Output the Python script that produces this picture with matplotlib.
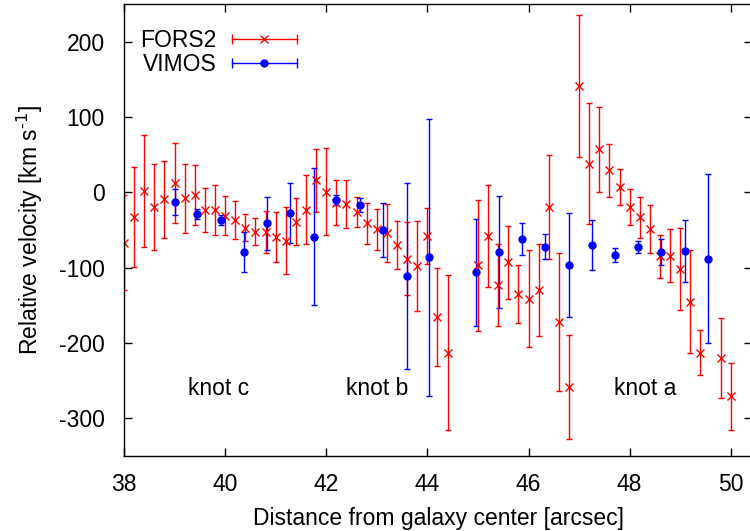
import numpy as np
import matplotlib
matplotlib.use('Agg')
import matplotlib.pyplot as plt
from matplotlib.lines import Line2D
from matplotlib.legend_handler import HandlerBase

plt.rcParams['font.family'] = ['Liberation Sans', 'DejaVu Sans']
plt.rcParams['axes.unicode_minus'] = False

# FORS2 long-slit velocities
fors_x = [38.0, 38.2, 38.4, 38.6, 38.8, 39.0, 39.2, 39.4, 39.6, 39.8,
          40.0, 40.2, 40.4, 40.6, 40.8, 41.0, 41.2, 41.4, 41.6, 41.8,
          42.0, 42.2, 42.4, 42.6, 42.8, 43.0, 43.2, 43.4, 43.6, 43.8,
          44.0, 44.2, 44.4, 45.0, 45.2, 45.4, 45.6, 45.8, 46.0, 46.2,
          46.4, 46.6, 46.8, 47.0, 47.2, 47.4, 47.6, 47.8, 48.0, 48.2,
          48.4, 48.6, 48.8, 49.0, 49.2, 49.4, 49.8, 50.0]
fors_v = [-67, -33, 2, -19, -9, 12, -8, -4, -23, -23,
          -31, -37, -47, -52, -53, -59, -64, -39, -23, 16,
          1, -14, -16, -26, -41, -49, -54, -70, -88, -98,
          -58, -165, -213, -97, -58, -123, -93, -135, -141, -130,
          -19, -172, -259, 141, 38, 57, 29, 7, -19, -33,
          -49, -85, -84, -102, -145, -213, -220, -271]
fors_err = [63, 66, 74, 57, 51, 53, 46, 40, 29, 33,
            26, 25, 18, 18, 28, 33, 45, 31, 46, 42,
            58, 30, 32, 20, 27, 27, 38, 32, 48, 60,
            37, 65, 103, 87, 68, 55, 48, 39, 64, 61,
            69, 92, 69, 94, 80, 56, 35, 24, 24, 27,
            32, 29, 35, 54, 68, 30, 53, 45]

# VIMOS IFU velocities
vimos_x = [39.0, 39.45, 39.92, 40.38, 40.83, 41.29, 41.75, 42.2, 42.67, 43.12,
           43.59, 44.04, 44.96, 45.42, 45.87, 46.33, 46.8, 47.25, 47.72, 48.17,
           48.63, 49.09, 49.55]
vimos_v = [-13, -29, -37, -79, -41, -27, -59, -10, -17, -50,
           -111, -86, -106, -79, -62, -72, -97, -70, -83, -73,
           -79, -78, -88]
vimos_err = [17, 7, 7, 27, 35, 40, 91, 7, 9, 36,
             123, 184, 71, 74, 21, 17, 69, 33, 9, 8,
             17, 41, 112]

knot_names = ['knot c', 'knot b', 'knot a']
knot_x = [39.88, 43.0, 48.3]
knot_y = [-260, -260, -260]


class HorizErrHandler(HandlerBase):
    # gnuplot-like key sample: horizontal bar with end caps and the point in the middle
    def create_artists(self, legend, orig, xd, yd, w, h, fs, trans):
        c = orig.get_color()
        y = yd + h / 2
        bar = Line2D([xd, xd + w], [y, y], color=c, lw=1.0, transform=trans)
        caps = Line2D([xd, xd + w], [y, y], ls='none', marker='|', ms=7,
                      mew=1.0, color=c, transform=trans)
        pt = Line2D([xd + w / 2], [y], ls='none', marker=orig.get_marker(),
                    ms=orig.get_markersize(), mew=orig.get_markeredgewidth(),
                    color=c, transform=trans)
        return [bar, caps, pt]


fig = plt.figure(figsize=(7.5, 5.31), dpi=100)
ax = fig.add_axes([124 / 750, 75 / 531, 628 / 750, 452 / 531])

ax.errorbar(fors_x, fors_v, yerr=fors_err, fmt='x', color='#ff0000', ms=6, mew=1.0,
            elinewidth=1.0, capsize=2.5, capthick=1.0)
ax.errorbar(vimos_x, vimos_v, yerr=vimos_err, fmt='o', color='#0000ff', ms=5,
            elinewidth=1.0, capsize=2.5, capthick=1.0)

for name, kx, ky in zip(knot_names, knot_x, knot_y):
    ax.text(kx, ky, name, fontsize=16.5, ha='center', va='center')

ax.set_xlim(38, 50.42)
ax.set_ylim(-350, 250)
ax.set_xticks([38, 40, 42, 44, 46, 48, 50])
ax.set_yticks([-300, -200, -100, 0, 100, 200])
ax.tick_params(direction='in', top=True, right=True, length=6, width=1.0,
               labelsize=16.5, pad=12)
ax.tick_params(axis='y', pad=14)
for s in ax.spines.values():
    s.set_linewidth(1.0)

ax.set_xlabel('Distance from galaxy center [arcsec]', fontsize=16.5, labelpad=8)
ax.set_ylabel(r'Relative velocity [km s$^{\text{-1}}$]', fontsize=16.5, labelpad=10)

h1 = Line2D([], [], color='#ff0000', marker='x', ms=6, mew=1.0)
h2 = Line2D([], [], color='#0000ff', marker='o', ms=5, mew=1.0)
ax.legend([h1, h2], ['FORS2', 'VIMOS'], loc='upper left', frameon=False,
          markerfirst=False, fontsize=16.5, handlelength=2.8, handletextpad=0.7,
          labelspacing=0.05, borderaxespad=0.3, bbox_to_anchor=(0.0, 0.98),
          handler_map={Line2D: HorizErrHandler()})

fig.savefig('out.png', dpi=100)
